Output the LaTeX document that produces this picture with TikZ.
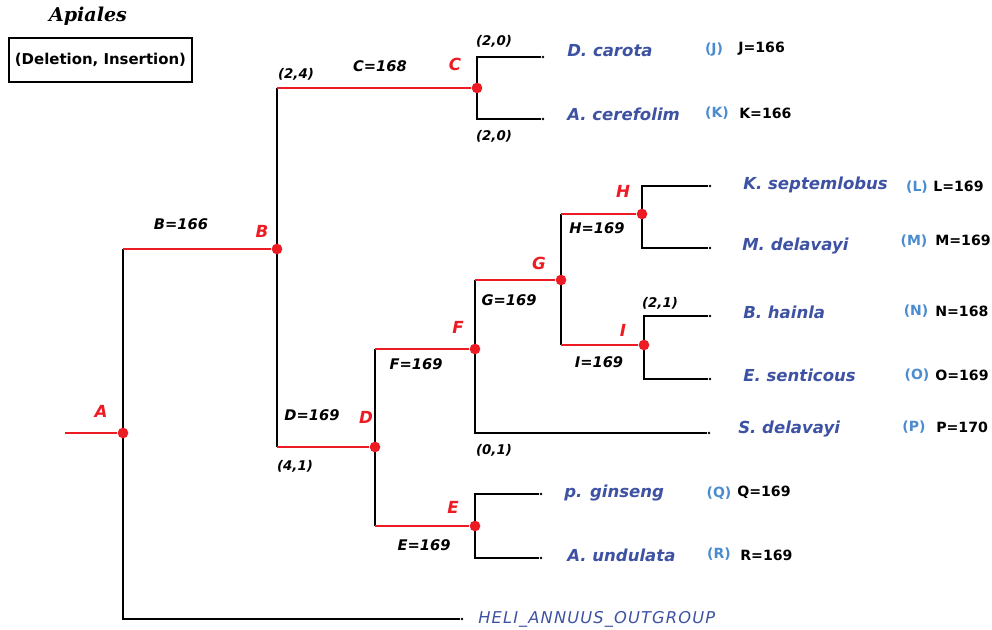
\documentclass[tikz,border=0pt]{standalone}
\usepackage{fontspec}
\usepackage{xcolor}
\usepackage{tikz}
\usetikzlibrary{positioning, backgrounds}
\setmainfont{DejaVu Sans}
\newfontfamily\titlefont{DejaVu Serif}
\newfontfamily\outfont[LetterSpace=7]{DejaVu Sans}
\definecolor{treered}{RGB}{237, 28, 36}
\definecolor{taxonblue}{RGB}{62, 82, 163}
\definecolor{codeblue}{RGB}{74, 140, 207}

\begin{document}
\begin{tikzpicture}[
    x=0.75pt, y=-0.75pt,
    junction/.style={circle, fill=treered, inner sep=0pt, minimum size=8pt},
    tip/.style={circle, fill=black, inner sep=0pt, minimum size=2pt},
    redbranch/.style={draw=treered, line width=1.1pt},
    stem/.style={draw=black, line width=1.2pt},
    legendbox/.style={rectangle, draw, line width=1.1pt, minimum width=137pt,
                      minimum height=33pt, inner sep=0pt,
                      font=\bfseries\fontsize{11.2}{13}\selectfont},
    count/.style={font=\bfseries\itshape\fontsize{11}{13}\selectfont},
    pair/.style={font=\bfseries\itshape\fontsize{10}{12}\selectfont},
    letter/.style={text=treered, font=\bfseries\itshape\fontsize{12.5}{15}\selectfont},
    taxon/.style={anchor=west, inner sep=0pt, text=taxonblue,
                  font=\bfseries\itshape\fontsize{12.4}{15}\selectfont},
    code/.style={text=codeblue, font=\bfseries\fontsize{10.5}{12}\selectfont},
    score/.style={anchor=west, inner sep=0pt, font=\bfseries\fontsize{10.6}{13}\selectfont}
]
    \useasboundingbox (0,0) rectangle (992,630);

    % Title and legend
    \node[font=\titlefont\bfseries\itshape\fontsize{14.3}{17}\selectfont] (title) at (88,16) {Apiales};
    \node[legendbox] (legend) at (100.5,60) {(Deletion, Insertion)};

    % Internal nodes
    \coordinate (root) at (65,433);
    \node[junction] (A) at (123,433) {};
    \node[junction] (B) at (277,249) {};
    \node[junction] (C) at (477,88) {};
    \node[junction] (D) at (375,447) {};
    \node[junction] (E) at (475,526) {};
    \node[junction] (F) at (475,349) {};
    \node[junction] (G) at (561,280) {};
    \node[junction] (H) at (642,214) {};
    \node[junction] (I) at (644,345) {};

    % Leaf tips
    \node[tip] (tipJ) at (543,57) {};
    \node[tip] (tipK) at (543,119) {};
    \node[tip] (tipL) at (710,186) {};
    \node[tip] (tipM) at (710,248) {};
    \node[tip] (tipN) at (710,316) {};
    \node[tip] (tipO) at (710,379) {};
    \node[tip] (tipP) at (709,433) {};
    \node[tip] (tipQ) at (541,494) {};
    \node[tip] (tipR) at (541,558) {};
    \node[tip] (tipout) at (462,619) {};

    % Branches
    \begin{scope}[on background layer]
        \draw[redbranch] (root) -- (A);
        \draw[stem] (B -| A) -- (tipout -| A) -- (tipout);
        \draw[redbranch] (B -| A) -- (B);
        \draw[stem] (C -| B) -- (D -| B);
        \draw[redbranch] (C -| B) -- (C);
        \draw[redbranch] (D -| B) -- (D);
        \draw[stem] (tipJ) -- (tipJ -| C) -- (tipK -| C) -- (tipK);
        \draw[stem] (F -| D) -- (E -| D);
        \draw[redbranch] (F -| D) -- (F);
        \draw[redbranch] (E -| D) -- (E);
        \draw[stem] (G -| F) -- (tipP -| F) -- (tipP);
        \draw[redbranch] (G -| F) -- (G);
        \draw[stem] (tipQ) -- (tipQ -| E) -- (tipR -| E) -- (tipR);
        \draw[stem] (H -| G) -- (I -| G);
        \draw[redbranch] (H -| G) -- (H);
        \draw[redbranch] (I -| G) -- (I);
        \draw[stem] (tipL) -- (tipL -| H) -- (tipM -| H) -- (tipM);
        \draw[stem] (tipN) -- (tipN -| I) -- (tipO -| I) -- (tipO);
    \end{scope}

    % Node letters
    \node[letter] (lblA) at (101,411) {A};
    \node[letter] (lblB) at (262,231) {B};
    \node[letter] (lblC) at (455,64) {C};
    \node[letter] (lblD) at (366,417) {D};
    \node[letter] (lblE) at (453,507) {E};
    \node[letter] (lblF) at (458,327) {F};
    \node[letter] (lblG) at (539,263) {G};
    \node[letter] (lblH) at (623,191) {H};
    \node[letter] (lblI) at (623,330) {I};

    % Branch counts
    \node[count] (cntB) at (181,224) {B=166};
    \node[count] (cntC) at (380,66) {C=168};
    \node[count] (cntD) at (312,415) {D=169};
    \node[count] (cntE) at (424,545) {E=169};
    \node[count] (cntF) at (416,364) {F=169};
    \node[count] (cntG) at (509,300) {G=169};
    \node[count] (cntH) at (597,228) {H=169};
    \node[count] (cntI) at (599,362) {I=169};

    % Deletion / insertion pairs
    \node[pair] (pairB) at (296,74) {(2,4)};
    \node[pair] (pairJ) at (494,41) {(2,0)};
    \node[pair] (pairK) at (494,136) {(2,0)};
    \node[pair] (pairD) at (295,466) {(4,1)};
    \node[pair] (pairP) at (494,450) {(0,1)};
    \node[pair] (pairN) at (660,303) {(2,1)};

    % Taxa
    \node[taxon] (taxJ) at (567,51) {D. carota};
    \node[taxon] (taxK) at (567,114) {A. cerefolim};
    \node[taxon] (taxL) at (743,185) {K. septemlobus};
    \node[taxon] (taxM) at (742,246) {M. delavayi};
    \node[taxon] (taxN) at (743,312) {B. hainla};
    \node[taxon] (taxO) at (743,375) {E. senticous};
    \node[taxon] (taxP) at (738,429) {S. delavayi};
    \node[taxon] (taxQ) at (564,493) {p. ginseng};
    \node[taxon] (taxR) at (567,555) {A. undulata};
    \node[anchor=west, inner sep=0pt, text=taxonblue, font=\outfont\itshape\fontsize{12.2}{15}\selectfont]
        (taxout) at (478,619) {HELI\_ANNUUS\_OUTGROUP};

    % Leaf codes and scores
    \node[code] (codeJ) at (714,50) {(J)};
    \node[code] (codeK) at (717,113) {(K)};
    \node[code] (codeL) at (917,187) {(L)};
    \node[code] (codeM) at (914,241) {(M)};
    \node[code] (codeN) at (916,311) {(N)};
    \node[code] (codeO) at (917,375) {(O)};
    \node[code] (codeP) at (914,427) {(P)};
    \node[code] (codeQ) at (719,493) {(Q)};
    \node[code] (codeR) at (719,554) {(R)};
    \node[score] (scoreJ) at (738,49) {J=166};
    \node[score] (scoreK) at (739,113) {K=166};
    \node[score] (scoreL) at (933,186) {L=169};
    \node[score] (scoreM) at (935,240) {M=169};
    \node[score] (scoreN) at (935,311) {N=168};
    \node[score] (scoreO) at (935,375) {O=169};
    \node[score] (scoreP) at (936,427) {P=170};
    \node[score] (scoreQ) at (737,492) {Q=169};
    \node[score] (scoreR) at (740,555) {R=169};
\end{tikzpicture}
\end{document}
